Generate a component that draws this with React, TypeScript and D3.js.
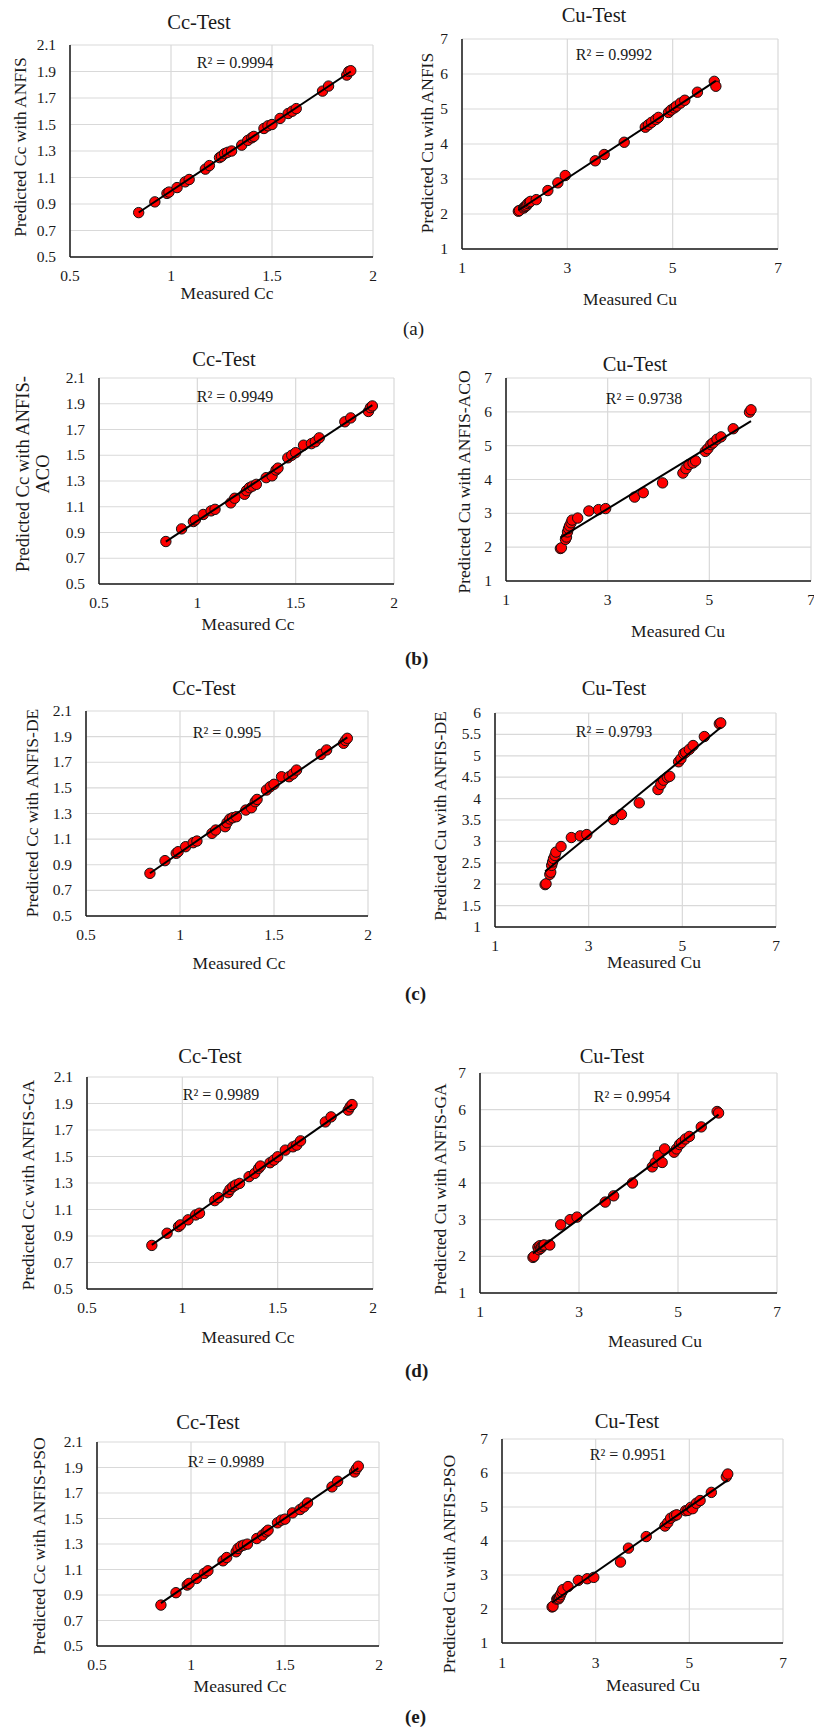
import * as d3 from "d3";

// tick values
const ccTicksX = [0.5, 1, 1.5, 2];
const ccTicksY = [0.5, 0.7, 0.9, 1.1, 1.3, 1.5, 1.7, 1.9, 2.1];
const cuTicksX = [1, 3, 5, 7];
const cuTicksY = [1, 2, 3, 4, 5, 6, 7];
const cuTicksYHalf = [1, 1.5, 2, 2.5, 3, 3.5, 4, 4.5, 5, 5.5, 6];

// measured test values (same set in every panel)
const measuredCc = [0.84, 0.92, 0.98, 0.99, 1.03, 1.07, 1.09, 1.17, 1.19, 1.24, 1.25, 1.265, 1.28, 1.3, 1.35, 1.38, 1.4, 1.41, 1.46, 1.48, 1.5, 1.54, 1.58, 1.6, 1.62, 1.75, 1.78, 1.87, 1.88, 1.89];
const measuredCu = [2.07, 2.09, 2.17, 2.19, 2.21, 2.23, 2.25, 2.28, 2.3, 2.41, 2.63, 2.82, 2.96, 3.53, 3.7, 4.08, 4.48, 4.54, 4.6, 4.68, 4.73, 4.92, 4.97, 5.03, 5.07, 5.15, 5.23, 5.47, 5.79, 5.82];

// predicted values per model
const ccAnfis = [0.835, 0.916, 0.98, 0.99, 1.024, 1.067, 1.085, 1.163, 1.19, 1.25, 1.26, 1.28, 1.29, 1.3, 1.344, 1.38, 1.4, 1.41, 1.47, 1.49, 1.5, 1.546, 1.583, 1.6, 1.62, 1.752, 1.79, 1.873, 1.9, 1.906];
const cuAnfis = [2.08, 2.1, 2.17, 2.2, 2.22, 2.25, 2.3, 2.33, 2.36, 2.41, 2.67, 2.89, 3.1, 3.52, 3.7, 4.05, 4.48, 4.55, 4.62, 4.7, 4.76, 4.9, 4.97, 5.03, 5.08, 5.17, 5.25, 5.48, 5.79, 5.65];
const ccAco = [0.83, 0.928, 0.985, 0.998, 1.04, 1.068, 1.08, 1.13, 1.166, 1.197, 1.225, 1.248, 1.26, 1.274, 1.326, 1.34, 1.385, 1.4, 1.48, 1.5, 1.52, 1.578, 1.59, 1.605, 1.635, 1.76, 1.79, 1.84, 1.87, 1.883];
const cuAco = [1.96, 1.98, 2.23, 2.3, 2.45, 2.55, 2.63, 2.72, 2.8, 2.86, 3.07, 3.11, 3.14, 3.48, 3.61, 3.9, 4.19, 4.32, 4.44, 4.49, 4.55, 4.83, 4.91, 5.03, 5.08, 5.19, 5.26, 5.5, 5.99, 6.06];
const ccDe = [0.833, 0.932, 0.989, 1.002, 1.041, 1.072, 1.085, 1.145, 1.171, 1.197, 1.228, 1.257, 1.267, 1.275, 1.327, 1.345, 1.392, 1.41, 1.483, 1.509, 1.528, 1.587, 1.587, 1.608, 1.639, 1.762, 1.796, 1.848, 1.87, 1.887];
const cuDe = [1.99, 2.01, 2.23, 2.28, 2.44, 2.52, 2.6, 2.67, 2.75, 2.88, 3.09, 3.13, 3.16, 3.51, 3.63, 3.9, 4.21, 4.33, 4.43, 4.5, 4.52, 4.86, 4.93, 5.05, 5.08, 5.15, 5.24, 5.45, 5.75, 5.77];
const ccGa = [0.829, 0.921, 0.971, 0.984, 1.022, 1.059, 1.072, 1.167, 1.19, 1.227, 1.252, 1.272, 1.285, 1.297, 1.348, 1.373, 1.41, 1.428, 1.453, 1.473, 1.498, 1.548, 1.573, 1.586, 1.618, 1.761, 1.799, 1.85, 1.875, 1.892];
const cuGa = [1.97, 2.0, 2.25, 2.18, 2.29, 2.22, 2.27, 2.3, 2.31, 2.31, 2.86, 3.0, 3.07, 3.48, 3.65, 4.0, 4.44, 4.56, 4.75, 4.56, 4.93, 4.84, 4.93, 5.05, 5.1, 5.2, 5.27, 5.53, 5.95, 5.91];
const ccPso = [0.821, 0.918, 0.978, 0.991, 1.03, 1.069, 1.09, 1.168, 1.194, 1.239, 1.265, 1.283, 1.291, 1.299, 1.343, 1.369, 1.395, 1.408, 1.466, 1.487, 1.495, 1.544, 1.57, 1.591, 1.622, 1.748, 1.792, 1.865, 1.89, 1.91];
const cuPso = [2.06, 2.08, 2.29, 2.32, 2.3, 2.35, 2.42, 2.5, 2.57, 2.66, 2.84, 2.89, 2.93, 3.38, 3.79, 4.13, 4.44, 4.54, 4.67, 4.74, 4.77, 4.89, 4.9, 4.99, 4.95, 5.11, 5.19, 5.43, 5.89, 5.97];

const r2Text = ["R² = 0.9994", "R² = 0.9992", "R² = 0.9949", "R² = 0.9738", "R² = 0.995", "R² = 0.9793", "R² = 0.9989", "R² = 0.9954", "R² = 0.9989", "R² = 0.9951"];

const FONT = "'Liberation Serif', 'Times New Roman', serif";
const INK = "#1a1a1a";

// layout of each panel (pixels)
const panels = [
  { measured: measuredCc, predicted: ccAnfis, xt: ccTicksX, yt: ccTicksY, title: "Cc-Test", xLab: "Measured Cc", yLab: ["Predicted Cc with ANFIS"],
    L: 70, R: 373, T: 45, B: 257, titleX: 199, titleY: 29, tickY: 281, xLabX: 227, xLabY: 299, yLabX: 26, yLabY: 147, yLabSize: 17.5, r2X: 235, r2Y: 68 },
  { measured: measuredCu, predicted: cuAnfis, xt: cuTicksX, yt: cuTicksY, title: "Cu-Test", xLab: "Measured Cu", yLab: ["Predicted Cu with ANFIS"],
    L: 462, R: 778, T: 39, B: 249, titleX: 594, titleY: 22, tickY: 273, xLabX: 630, xLabY: 305, yLabX: 433, yLabY: 143, yLabSize: 17.5, r2X: 614, r2Y: 60 },
  { measured: measuredCc, predicted: ccAco, xt: ccTicksX, yt: ccTicksY, title: "Cc-Test", xLab: "Measured Cc", yLab: ["Predicted Cc with ANFIS-", "ACO"],
    L: 99, R: 394, T: 378, B: 584, titleX: 224, titleY: 366, tickY: 608, xLabX: 248, xLabY: 630, yLabX: 29, yLabY: 474, yLabSize: 18.5, r2X: 235, r2Y: 402 },
  { measured: measuredCu, predicted: cuAco, xt: cuTicksX, yt: cuTicksY, title: "Cu-Test", xLab: "Measured Cu", yLab: ["Predicted Cu with ANFIS-ACO"],
    L: 506, R: 811, T: 378, B: 581, titleX: 635, titleY: 371, tickY: 605, xLabX: 678, xLabY: 637, yLabX: 470, yLabY: 482, yLabSize: 17.5, r2X: 644, r2Y: 404 },
  { measured: measuredCc, predicted: ccDe, xt: ccTicksX, yt: ccTicksY, title: "Cc-Test", xLab: "Measured Cc", yLab: ["Predicted Cc with ANFIS-DE"],
    L: 86, R: 368, T: 711, B: 916, titleX: 204, titleY: 695, tickY: 940, xLabX: 239, xLabY: 969, yLabX: 38, yLabY: 813, yLabSize: 17.5, r2X: 227, r2Y: 738 },
  { measured: measuredCu, predicted: cuDe, xt: cuTicksX, yt: cuTicksYHalf, title: "Cu-Test", xLab: "Measured Cu", yLab: ["Predicted Cu with ANFIS-DE"],
    L: 495, R: 776, T: 713, B: 927, titleX: 614, titleY: 695, tickY: 951, xLabX: 654, xLabY: 968, yLabX: 446, yLabY: 816, yLabSize: 17.5, r2X: 614, r2Y: 737 },
  { measured: measuredCc, predicted: ccGa, xt: ccTicksX, yt: ccTicksY, title: "Cc-Test", xLab: "Measured Cc", yLab: ["Predicted Cc with ANFIS-GA"],
    L: 87, R: 373, T: 1077, B: 1289, titleX: 210, titleY: 1063, tickY: 1313, xLabX: 248, xLabY: 1343, yLabX: 34, yLabY: 1185, yLabSize: 17.5, r2X: 221, r2Y: 1100 },
  { measured: measuredCu, predicted: cuGa, xt: cuTicksX, yt: cuTicksY, title: "Cu-Test", xLab: "Measured Cu", yLab: ["Predicted Cu with ANFIS-GA"],
    L: 480, R: 777, T: 1073, B: 1293, titleX: 612, titleY: 1063, tickY: 1317, xLabX: 655, xLabY: 1347, yLabX: 446, yLabY: 1189, yLabSize: 17.5, r2X: 632, r2Y: 1102 },
  { measured: measuredCc, predicted: ccPso, xt: ccTicksX, yt: ccTicksY, title: "Cc-Test", xLab: "Measured Cc", yLab: ["Predicted Cc with ANFIS-PSO"],
    L: 97, R: 379, T: 1442, B: 1646, titleX: 208, titleY: 1429, tickY: 1670, xLabX: 240, xLabY: 1692, yLabX: 45, yLabY: 1546, yLabSize: 17.5, r2X: 226, r2Y: 1467 },
  { measured: measuredCu, predicted: cuPso, xt: cuTicksX, yt: cuTicksY, title: "Cu-Test", xLab: "Measured Cu", yLab: ["Predicted Cu with ANFIS-PSO"],
    L: 502, R: 783, T: 1439, B: 1643, titleX: 627, titleY: 1428, tickY: 1668, xLabX: 653, xLabY: 1691, yLabX: 455, yLabY: 1564, yLabSize: 17.5, r2X: 628, r2Y: 1460 },
];

const tags = [
  { text: "(a)", x: 403, y: 335, bold: false },
  { text: "(b)", x: 405, y: 665, bold: true },
  { text: "(c)", x: 405, y: 1000, bold: true },
  { text: "(d)", x: 405, y: 1377, bold: true },
  { text: "(e)", x: 405, y: 1723, bold: true },
];

function Panel({ p, r2 }: { p: any; r2: string }) {
  const xs = d3.scaleLinear().domain(d3.extent(p.xt) as [number, number]).range([p.L, p.R]);
  const ys = d3.scaleLinear().domain(d3.extent(p.yt) as [number, number]).range([p.B, p.T]);
  const pts = p.measured.map((m: number, i: number) => [m, p.predicted[i]]);
  // least squares trend line, like Excel's linear trendline
  const mx = d3.mean(p.measured) as number;
  const my = d3.mean(p.predicted) as number;
  const sxy = d3.sum(pts, (d: number[]) => (d[0] - mx) * (d[1] - my));
  const sxx = d3.sum(pts, (d: number[]) => (d[0] - mx) ** 2);
  const slope = sxy / sxx;
  const icpt = my - slope * mx;
  const [x0, x1] = d3.extent(p.measured) as [number, number];
  const lineGen = d3.line<number>().x((d) => xs(d)).y((d) => ys(slope * d + icpt));
  const lineCount = p.yLab.length;
  return (
    <g fontFamily={FONT} fill={INK}>
      <text x={p.titleX} y={p.titleY} textAnchor="middle" fontSize={20.5}>{p.title}</text>
      {p.yt.map((t: number) => (
        <line key={"gy" + t} x1={p.L} x2={p.R} y1={ys(t)} y2={ys(t)} stroke="#d9d9d9" strokeWidth={1.2} />
      ))}
      {p.xt.map((t: number) => (
        <line key={"gx" + t} x1={xs(t)} x2={xs(t)} y1={p.T} y2={p.B} stroke="#d9d9d9" strokeWidth={1.2} />
      ))}
      <line x1={p.L} x2={p.L} y1={p.T} y2={p.B} stroke={INK} strokeWidth={1.5} />
      <line x1={p.L} x2={p.R} y1={p.B} y2={p.B} stroke={INK} strokeWidth={1.5} />
      {p.yt.map((t: number) => (
        <text key={"ty" + t} x={p.L - 14} y={ys(t) + 5} textAnchor="end" fontSize={15.5}>{String(t)}</text>
      ))}
      {p.xt.map((t: number) => (
        <text key={"tx" + t} x={xs(t)} y={p.tickY} textAnchor="middle" fontSize={15.5}>{String(t)}</text>
      ))}
      <text x={p.xLabX} y={p.xLabY} textAnchor="middle" fontSize={17.5}>{p.xLab}</text>
      {p.yLab.map((s: string, i: number) => {
        const bx = p.yLabX + (i - (lineCount - 1)) * 0 + i * 20;
        return (
          <text key={s} transform={`translate(${bx},${p.yLabY}) rotate(-90)`} textAnchor="middle" fontSize={p.yLabSize}>{s}</text>
        );
      })}
      <text x={p.r2X} y={p.r2Y} textAnchor="middle" fontSize={16}>{r2}</text>
      {pts.map((d: number[], i: number) => (
        <circle key={i} cx={xs(d[0])} cy={ys(d[1])} r={5.2} fill="#ff0000" stroke="#111" strokeWidth={1} />
      ))}
      <path d={lineGen([x0, x1]) as string} stroke="#000" strokeWidth={2} fill="none" />
    </g>
  );
}

export default function App() {
  return (
    <svg width={814} height={1732} style={{ position: "absolute", left: 0, top: 0, background: "#fff" }}>
      <rect width={814} height={1732} fill="#fff" />
      {panels.map((p, i) => (
        <Panel key={i} p={p} r2={r2Text[i]} />
      ))}
      {tags.map((t) => (
        <text key={t.text} x={t.x} y={t.y} fontFamily={FONT} fontSize={19} fontWeight={t.bold ? "bold" : "normal"} fill={INK}>{t.text}</text>
      ))}
    </svg>
  );
}
